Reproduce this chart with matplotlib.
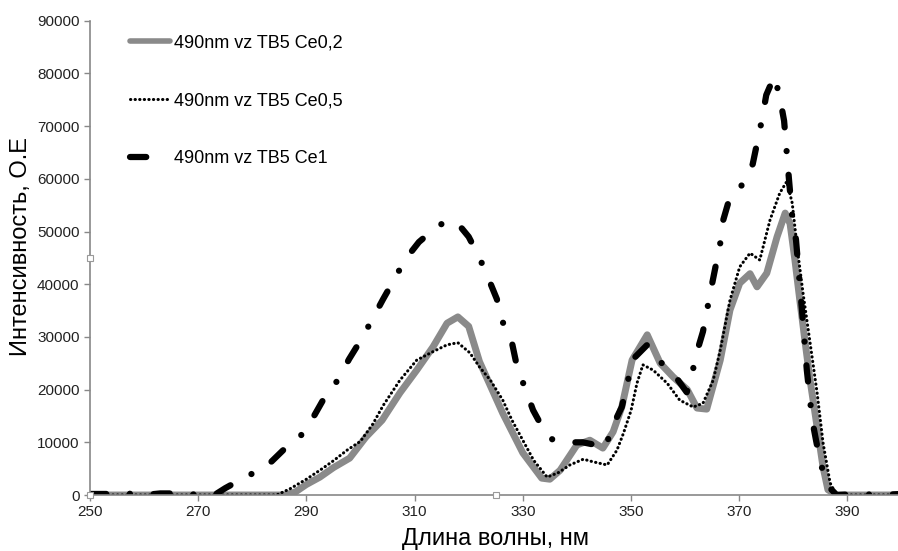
import numpy as np
import matplotlib
matplotlib.use("Agg")
import matplotlib.pyplot as plt

plt.rcParams['font.family'] = ['Liberation Sans', 'DejaVu Sans']

# --- data ---
wl_ce02 = [250, 286, 288, 290, 292.5, 295, 298, 301, 304, 307.3, 310.4, 313.4, 316, 318,
           320, 322, 326.3, 330, 333.5, 335, 336.9, 340, 342.4, 344.8, 346.7, 348.3, 350.2,
           353, 355.4, 357.8, 360.4, 362.2, 364, 366.5, 368.3, 370.1, 372, 373.3, 375.1,
           377, 378.5, 379.4, 380.3, 381.2, 382.2, 383.1, 384.4, 385.5, 386.4, 388, 400]
int_ce02 = [0, 0, 600, 2000, 3400, 5200, 7000, 11000, 14200, 19400, 23700, 28100, 32600, 33800,
            32000, 25300, 15500, 8000, 3200, 3000, 4700, 9500, 10400, 8900, 12000, 16700, 25600,
            30400, 25000, 22400, 20000, 16500, 16300, 25600, 35100, 40200, 42000, 39500, 42100,
            49000, 53500, 51500, 44600, 37000, 28900, 21800, 12900, 5300, 1000, 0, 0]

wl_ce05 = [250, 284.5, 287, 290, 292.5, 295, 297.5, 300, 302.3, 304.2, 307.3, 310.4, 313.4,
           316, 318, 320.2, 322, 324, 326.3, 328, 330, 332, 334.5, 336.5, 338.7, 341.2, 343,
           345.6, 347.4, 348.6, 350, 351.1, 352.2, 354.1, 356.7, 359, 361.5, 363.3, 365.2,
           366.5, 368.3, 370.1, 372, 373.8, 375.7, 377.5, 378.8, 379.8, 380.7, 381.8, 383.1,
           384.4, 385.5, 386.8, 388, 400]
int_ce05 = [0, 0, 1200, 3000, 4700, 6500, 8500, 10200, 13500, 17000, 21800, 25600, 27200,
            28500, 28900, 27000, 24300, 21800, 18000, 14200, 10400, 6600, 3400, 4200, 5700, 6800, 6300,
            5700, 8500, 11700, 16000, 21200, 24700, 23700, 21200, 18000, 16700, 17400, 21800,
            27500, 37000, 43300, 45900, 44600, 52200, 57300, 59500, 55400, 47100, 38300, 28900,
            19400, 9900, 2300, 0, 0]

wl_ce1 = [250, 253, 255, 258, 260, 263, 266, 268, 271, 273, 275, 278, 282.7, 285.7, 288.8,
          291.3, 293.4, 295.8, 297.9, 300.3, 302.1, 304.2, 306.4, 308.2, 310.8, 314.1, 316,
          318, 320, 322, 323.6, 325.2, 326.3, 328, 328.9, 330.4, 331.9, 333.7, 335.5, 337.2,
          341.1, 343, 345.2, 346.7, 348.3, 349.4, 350.2, 353, 355.7, 358.7, 360.3, 361, 362,
          363.3, 364.8, 366.5, 367, 368.3, 370.5, 372.5, 374.2, 375, 376.5, 377.5, 378.3, 379,
          379.8, 380.5, 381.6, 382.5, 383.5, 384.2, 385.1, 386.8, 388, 392, 396, 400]
int_ce1 = [200, 200, 0, 300, 0, 300, 300, 0, 300, 0, 1300, 3000, 5500, 8500, 11000,
           14800, 18600, 21800, 25800, 29800, 33200, 37200, 41200, 44600, 48000, 50900, 52000,
           51500, 49000, 45000, 41200, 37200, 32800, 28900, 24500, 20300, 16100, 12700, 10500, 10000,
           10000, 9600, 8900, 13300, 16700, 21500, 25600, 28500, 25000, 21800, 19500, 21500, 26500,
           31000, 39100, 47800, 52000, 56600, 58800, 62800, 71200, 75900, 79500, 75500, 71000, 62300,
           52800, 48400, 35100, 23700, 14200, 10400, 5700, 1300, 0, 200, 0, 200]

labels = ["490nm vz TB5 Ce0,2", "490nm vz TB5 Ce0,5", "490nm vz TB5 Ce1"]
x_ticks = [250, 270, 290, 310, 330, 350, 370, 390]
y_ticks = [0, 10000, 20000, 30000, 40000, 50000, 60000, 70000, 80000, 90000]

fig = plt.figure(figsize=(8.98, 5.51), dpi=100)
ax = fig.add_axes([0.1002, 0.1016, 0.9037, 0.8608])

ax.plot(wl_ce02, int_ce02, color='#8a8a8a', lw=5, solid_joinstyle='round',
        solid_capstyle='round', label=labels[0])
ax.plot(wl_ce05, int_ce05, color='black', lw=2.2, dashes=(0.1, 1.4),
        dash_capstyle='round', label=labels[1])
ax.plot(wl_ce1, int_ce1, color='black', lw=4.5, dashes=(2.6, 3.8, 0.01, 3.8),
        dash_capstyle='round', label=labels[2])

# selection handles left over in the picture
ax.plot([250, 325], [0, 0], 's', ms=5, mfc='white', mec='#999999', mew=0.8,
        clip_on=False, zorder=5)
ax.plot([250], [45000], 's', ms=5, mfc='white', mec='#999999', mew=0.8,
        clip_on=False, zorder=5)

ax.set_xlim(250, 400)
ax.set_ylim(0, 90000)
ax.set_xticks(x_ticks)
ax.set_yticks(y_ticks)
ax.tick_params(labelsize=11, colors='#222222', length=4, width=1)
ax.tick_params(axis='both', color='#888888')

for s in ['top', 'right']:
    ax.spines[s].set_visible(False)
for s in ['left', 'bottom']:
    ax.spines[s].set_color('#888888')
    ax.spines[s].set_linewidth(1.2)

ax.set_xlabel("Длина волны, нм", fontsize=17)
ax.set_ylabel("Интенсивность, О.Е", fontsize=17)
ax.xaxis.set_label_coords(0.5, -0.069)
ax.yaxis.set_label_coords(-0.0715, 0.523)

leg = ax.legend(loc='upper left', bbox_to_anchor=(0.0296, 1.006), frameon=False,
                fontsize=13, labelspacing=2.27, handlelength=2.2, handletextpad=0.22)
leg.get_lines()[0].set_linewidth(4)

fig.savefig("out.png", dpi=100)
